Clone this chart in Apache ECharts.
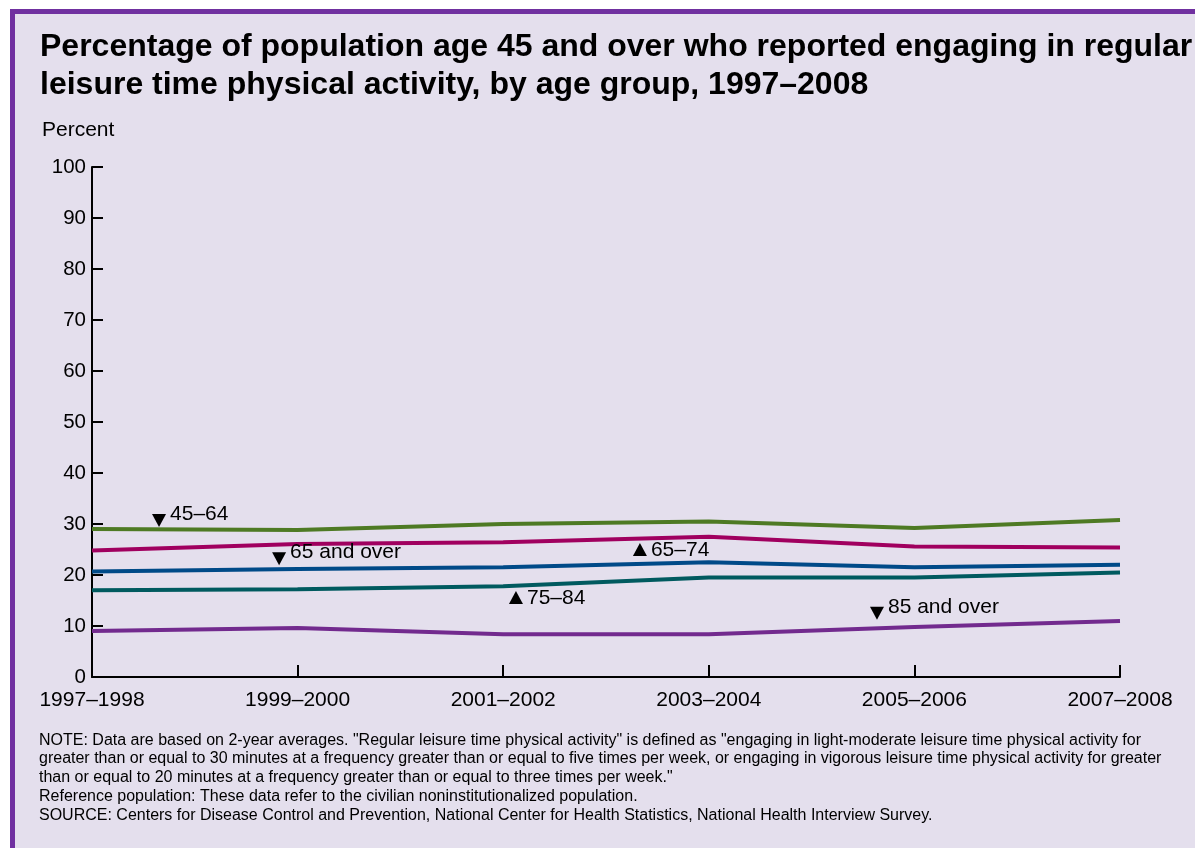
<!DOCTYPE html>
<html>
<head>
<meta charset="utf-8">
<script src="https://cdn.jsdelivr.net/npm/echarts@6/dist/echarts.min.js"></script>
<style>
  html, body { margin: 0; padding: 0; background: #fff; }
  #chart { width: 1195px; height: 848px; }
</style>
</head>
<body>
<div id="chart"></div>
<script>
const periods = ['1997–1998', '1999–2000', '2001–2002', '2003–2004', '2005–2006', '2007–2008'];
const age45to64 = [29.0, 28.8, 30.0, 30.5, 29.2, 30.8];
const age65to74 = [24.8, 26.1, 26.4, 27.5, 25.6, 25.4];
const age65over = [20.7, 21.2, 21.5, 22.5, 21.5, 22.0];
const age75to84 = [17.0, 17.2, 17.8, 19.5, 19.5, 20.5];
const age85over = [9.0, 9.6, 8.4, 8.4, 9.8, 11.0];
const yTicks = [0, 10, 20, 30, 40, 50, 60, 70, 80, 90, 100];

// series label callouts: [x index, value, text, pointing down?]
const callouts = [
  [0.326, 30.7, '45–64', true],
  [0.91, 23.2, '65 and over', true],
  [2.665, 25.0, '65–74', false],
  [2.062, 15.6, '75–84', false],
  [3.818, 12.5, '85 and over', true]
];

const font = '"Liberation Sans", Arial, sans-serif';
const noteText = [
  'NOTE: Data are based on 2-year averages. "Regular leisure time physical activity" is defined as "engaging in light-moderate leisure time physical activity for',
  'greater than or equal to 30 minutes at a frequency greater than or equal to five times per week, or engaging in vigorous leisure time physical activity for greater',
  'than or equal to 20 minutes at a frequency greater than or equal to three times per week."',
  'Reference population: These data refer to the civilian noninstitutionalized population.',
  'SOURCE: Centers for Disease Control and Prevention, National Center for Health Statistics, National Health Interview Survey.'
].join('\n');

function line(name, values, color) {
  return {
    name: name,
    type: 'line',
    data: values.map((v, i) => [i, v]),
    symbol: 'none',
    lineStyle: { color: color, width: 4 },
    z: 3
  };
}

const chart = echarts.init(document.getElementById('chart'));
chart.setOption({
  backgroundColor: '#e4dfed',
  animation: false,
  textStyle: { fontFamily: font },
  title: {
    text: 'Percentage of population age 45 and over who reported engaging in regular\nleisure time physical activity, by age group, 1997–2008',
    left: 35,
    top: 23,
    textStyle: { fontSize: 32, fontWeight: 'bold', color: '#000', lineHeight: 38, fontFamily: font }
  },
  graphic: [
    { type: 'rect', shape: { x: 0, y: 0, width: 1195, height: 9 }, style: { fill: '#fff' }, silent: true },
    { type: 'rect', shape: { x: 0, y: 0, width: 10, height: 848 }, style: { fill: '#fff' }, silent: true },
    { type: 'rect', shape: { x: 10, y: 9, width: 1185, height: 5 }, style: { fill: '#7030a0' }, silent: true },
    { type: 'rect', shape: { x: 10, y: 9, width: 5, height: 839 }, style: { fill: '#7030a0' }, silent: true },
    {
      type: 'text', left: 42, top: 120,
      style: { text: 'Percent', fontSize: 21, fill: '#000', fontFamily: font }
    },
    {
      type: 'text', left: 39, top: 731,
      style: { text: noteText, fontSize: 16, lineHeight: 18.7, fill: '#000', fontFamily: font }
    }
  ],
  grid: { left: 92, right: 75, top: 167, bottom: 171, containLabel: false },
  xAxis: {
    type: 'value',
    min: 0,
    max: periods.length - 1,
    interval: 1,
    axisLine: { lineStyle: { color: '#000', width: 2 } },
    axisTick: { inside: true, length: 12, lineStyle: { color: '#000', width: 2 } },
    axisLabel: {
      margin: 13,
      fontSize: 21,
      color: '#000',
      fontFamily: font,
      formatter: v => periods[v] || ''
    },
    splitLine: { show: false }
  },
  yAxis: {
    type: 'value',
    min: yTicks[0],
    max: yTicks[yTicks.length - 1],
    interval: 10,
    axisLine: { show: true, lineStyle: { color: '#000', width: 2 } },
    axisTick: { show: true, inside: true, length: 11, lineStyle: { color: '#000', width: 2 } },
    axisLabel: { margin: 6, fontSize: 20.5, color: '#000', fontFamily: font },
    splitLine: { show: false }
  },
  series: [
    line('45–64', age45to64, '#4e7a24'),
    line('65–74', age65to74, '#a0005f'),
    line('65 and over', age65over, '#004a88'),
    line('75–84', age75to84, '#005a5f'),
    line('85 and over', age85over, '#722a8e'),
    {
      type: 'scatter',
      z: 4,
      data: callouts.map(c => ({
        value: [c[0], c[1]],
        symbolRotate: c[3] ? 180 : 0,
        label: { offset: [0, c[3] ? -6 : 1], color: '#000' },
        name: c[2]
      })),
      symbol: 'triangle',
      symbolSize: [14, 13],
      itemStyle: { color: '#000', opacity: 1 },
      label: {
        show: true,
        position: 'right',
        distance: 4,
        formatter: p => p.name,
        fontSize: 21,
        color: '#000',
        fontFamily: font
      }
    }
  ]
});
</script>
</body>
</html>
